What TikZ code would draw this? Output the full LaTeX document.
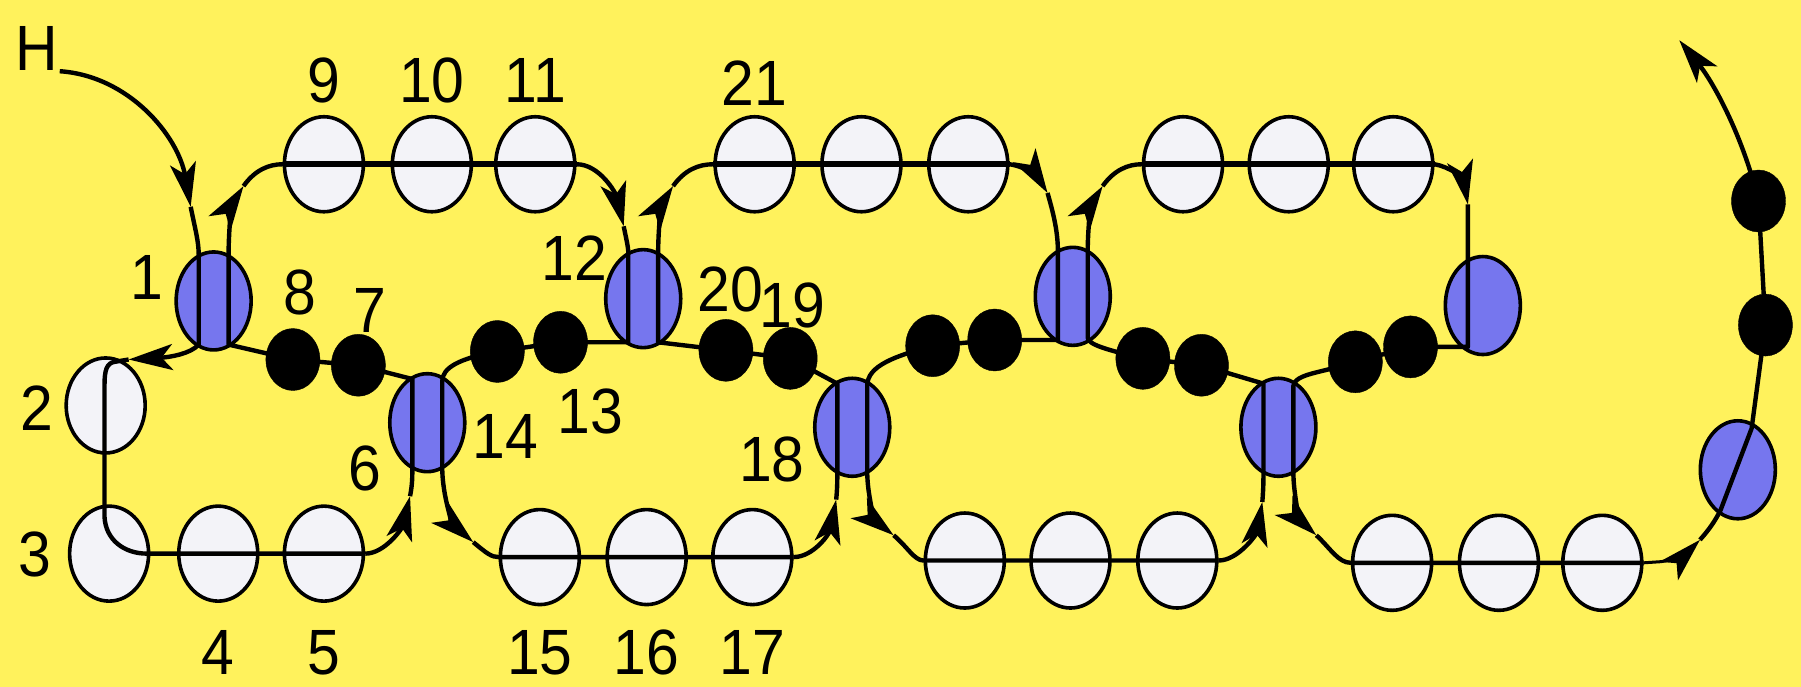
\documentclass[tikz,border=0pt]{standalone}
\usepackage{fontspec}
\setmainfont{Liberation Sans}[FakeStretch=0.92]
\usetikzlibrary{shapes.geometric,arrows.meta,calc}
\definecolor{bgyellow}{RGB}{255,242,92}
\definecolor{beadblue}{RGB}{118,118,238}
\definecolor{beadwhite}{RGB}{243,243,248}
\begin{document}
\begin{tikzpicture}[x=1.1486pt,y=-1.1486pt,
  wbead/.style={ellipse,draw=black,line width=3.6pt,fill=beadwhite,minimum width=79pt,minimum height=95pt,inner sep=0pt},
  bbead/.style={ellipse,draw=black,line width=3.6pt,fill=beadblue,minimum width=75pt,minimum height=98pt,inner sep=0pt},
  kbead/.style={ellipse,draw=black,fill=black,minimum width=54pt,minimum height=62pt,inner sep=0pt},
  thread/.style={line width=4.4pt,draw=black,line join=round},
  toprow/.style={line width=6pt},
  arr/.style={-{Stealth[length=44pt,width=26pt,inset=11pt]}},
  lbl/.style={font=\fontsize{64}{70}\selectfont,inner sep=0pt}]
\fill[bgyellow] (0,0) rectangle (1568,598);
\useasboundingbox (0,0) rectangle (1568,598);
% white beads top
\node[wbead] (b9) at (282,143) {};
\node[wbead] (b10) at (376,143) {};
\node[wbead] (b11) at (466,143) {};
\node[wbead] (b21) at (657,143) {};
\node[wbead] (t2) at (750,143) {};
\node[wbead] (t3) at (843,143) {};
\node[wbead] (t4) at (1030,143) {};
\node[wbead] (t5) at (1122,143) {};
\node[wbead] (t6) at (1213,143) {};
% white beads bottom
\node[wbead] (b2) at (92,353) {};
\node[wbead] (b3) at (95,482) {};
\node[wbead] (b4) at (190,482) {};
\node[wbead] (b5) at (282,482) {};
\node[wbead] (b15) at (470,485) {};
\node[wbead] (b16) at (563,485) {};
\node[wbead] (b17) at (655,485) {};
\node[wbead] (u1) at (840,488) {};
\node[wbead] (u2) at (932,488) {};
\node[wbead] (u3) at (1025,488) {};
\node[wbead] (u4) at (1212,490) {};
\node[wbead] (u5) at (1305,490) {};
\node[wbead] (u6) at (1395,490) {};
% blue beads
\node[bbead] (b1) at (186,262) {};
\node[bbead] (b6) at (372,368) {};
\node[bbead] (b12) at (560,260) {};
\node[bbead] (b18) at (742,372) {};
\node[bbead] (p1) at (934,258) {};
\node[bbead] (p2) at (1113,372) {};
\node[bbead] (p3) at (1291,266) {};
\node[bbead] (p4) at (1513,409) {};
% black beads
\node[kbead] (b8) at (255,313) {};
\node[kbead] (b7) at (312,318) {};
\node[kbead] (b14) at (433,306) {};
\node[kbead] (b13) at (488,298) {};
\node[kbead] (b20) at (632,305) {};
\node[kbead] (b19) at (688,312) {};
\node[kbead] (k1) at (812,301) {};
\node[kbead] (k2) at (866,296) {};
\node[kbead] (k3) at (995,312) {};
\node[kbead] (k4) at (1046,318) {};
\node[kbead] (k5) at (1180,315) {};
\node[kbead] (k6) at (1228,302) {};
\node[kbead] (k7) at (1537,283) {};
\node[kbead] (k8) at (1531,175) {};
% arrow points
\coordinate (hs) at (52,62);
\coordinate (a1) at (166,180);
\coordinate (a2) at (112,313);
\coordinate (a3) at (357,432);
\coordinate (a4) at (212,162);
\coordinate (a5) at (543,197);
\coordinate (a6) at (412,472);
\coordinate (a7) at (728,435);
\coordinate (a8) at (586,162);
\coordinate (a9) at (912,168);
\coordinate (a10) at (778,466);
\coordinate (a11) at (1099,437);
\coordinate (a12) at (960,162);
\coordinate (a13) at (1278,178);
\coordinate (a14) at (1146,466);
\coordinate (a15) at (1480,470);
\coordinate (a16) at (1462,35);
% thread
\draw[thread,arr] (hs) .. controls (112,66) and (155,118) .. (a1);
\draw[thread,arr] (a1) .. controls (170,200) and (173,210) .. ($(b1.center)+(-13,-40)$) -- ($(b1.center)+(-13,38)$) .. controls (166,308) and (148,311) .. (a2);
\draw[thread] (a2) -- (100,315) .. controls (93,316) and (91,322) .. (91,335) -- (91,450) .. controls (92,470) and (108,482) .. (128,482) -- (b5.east);
\draw[thread,arr] (b5.east) .. controls (335,482) and (350,460) .. (a3);
\draw[thread,arr] (a3) .. controls (359,422) and (359,415) .. ($(b6.center)+(-13,38)$) -- ($(b6.center)+(-13,-38)$) -- (b7.center) -- (b8.center) -- ($(b1.center)+(13,38)$) -- ($(b1.center)+(13,-40)$) .. controls (199,195) and (203,176) .. (a4);
\draw[thread,arr] (a4) .. controls (222,148) and (234,143) .. (b9.west) -- (b11.east) .. controls (522,143) and (536,168) .. (a5);
\draw[thread,toprow] (b9.west) -- (b11.east);
\draw[thread,arr] (a5) .. controls (545,207) and (547,215) .. ($(b12.center)+(-13,-40)$) -- ($(b12.center)+(-13,38)$) -- (b13.center) -- (b14.center) .. controls (400,312) and (385,320) .. ($(b6.center)+(13,-36)$) -- ($(b6.center)+(13,38)$) .. controls (385,435) and (396,458) .. (a6);
\draw[thread] (a6) .. controls (424,482) and (428,485) .. (b15.west) -- (b17.east);
\draw[thread,arr] (b17.east) .. controls (708,485) and (722,465) .. (a7);
\draw[thread,arr] (a7) .. controls (729,425) and (729,418) .. ($(b18.center)+(-13,38)$) -- ($(b18.center)+(-13,-38)$) -- (b19.center) -- (b20.center) -- ($(b12.center)+(13,38)$) -- ($(b12.center)+(13,-40)$) .. controls (573,195) and (577,176) .. (a8);
\draw[thread,arr] (a8) .. controls (596,148) and (608,143) .. (b21.west) -- (t3.east) .. controls (893,145) and (904,155) .. (a9);
\draw[thread,toprow] (b21.west) -- (t3.east);
\draw[thread,arr] (a9) .. controls (916,182) and (921,200) .. ($(p1.center)+(-13,-40)$) -- ($(p1.center)+(-13,38)$) -- (k2.center) -- (k1.center) .. controls (780,310) and (755,318) .. ($(b18.center)+(13,-36)$) -- ($(b18.center)+(13,38)$) .. controls (755,435) and (764,455) .. (a10);
\draw[thread] (a10) .. controls (790,476) and (796,488) .. (u1.west) -- (u3.east);
\draw[thread,arr] (u3.east) .. controls (1078,488) and (1094,465) .. (a11);
\draw[thread,arr] (a11) .. controls (1100,425) and (1100,418) .. ($(p2.center)+(-13,38)$) -- ($(p2.center)+(-13,-38)$) -- (k4.center) -- (k3.center) .. controls (965,305) and (947,300) .. ($(p1.center)+(13,36)$) -- ($(p1.center)+(13,-40)$) .. controls (947,195) and (951,176) .. (a12);
\draw[thread,arr] (a12) .. controls (970,148) and (982,143) .. (t4.west) -- (t6.east) .. controls (1262,145) and (1274,156) .. (a13);
\draw[thread,toprow] (t4.west) -- (t6.east);
\draw[thread] (a13) -- ($(p3.center)+(-13,-40)$) -- ($(p3.center)+(-13,36)$) -- (k6.center) -- (k5.center) .. controls (1150,325) and (1128,325) .. ($(p2.center)+(13,-36)$) -- ($(p2.center)+(13,38)$);
\draw[thread,arr] ($(p2.center)+(13,38)$) .. controls (1126,435) and (1134,455) .. (a14);
\draw[thread] (a14) .. controls (1158,477) and (1165,490) .. (u4.west) -- (u6.east);
\draw[thread,line width=3pt,arr] (u6.east) -- (1446,489) .. controls (1458,488) and (1471,479) .. (a15);
\draw[thread] (a15) .. controls (1489,460) and (1494,452) .. ($(p4.center)+(-15,35)$) -- ($(p4.center)+(12,-36)$) -- (k7.center) -- (k8.center);
\draw[thread,arr] (k8.center) .. controls (1518,120) and (1492,72) .. (a16);
% labels
\node[lbl] (lH) at (32,42) {H};
\node[lbl] (l9) at (282,70) {9};
\node[lbl] (l10) at (376,70) {10};
\node[lbl] (l11) at (466,70) {11};
\node[lbl] (l21) at (657,72) {21};
\node[lbl] (l1) at (128,242) {1};
\node[lbl] (l8) at (261,255) {8};
\node[lbl] (l7) at (322,270) {7};
\node[lbl] (l12) at (500,225) {12};
\node[lbl] (l20) at (636,252) {20};
\node[lbl] (l19) at (690,266) {19};
\node[lbl] (l2) at (32,355) {2};
\node[lbl] (l3) at (30,483) {3};
\node[lbl] (l6) at (318,408) {6};
\node[lbl] (l14) at (440,380) {14};
\node[lbl] (l13) at (514,358) {13};
\node[lbl] (l18) at (672,400) {18};
\node[lbl] (l4) at (190,568) {4};
\node[lbl] (l5) at (282,568) {5};
\node[lbl] (l15) at (470,568) {15};
\node[lbl] (l16) at (563,568) {16};
\node[lbl] (l17) at (655,568) {17};
\end{tikzpicture}
\end{document}
